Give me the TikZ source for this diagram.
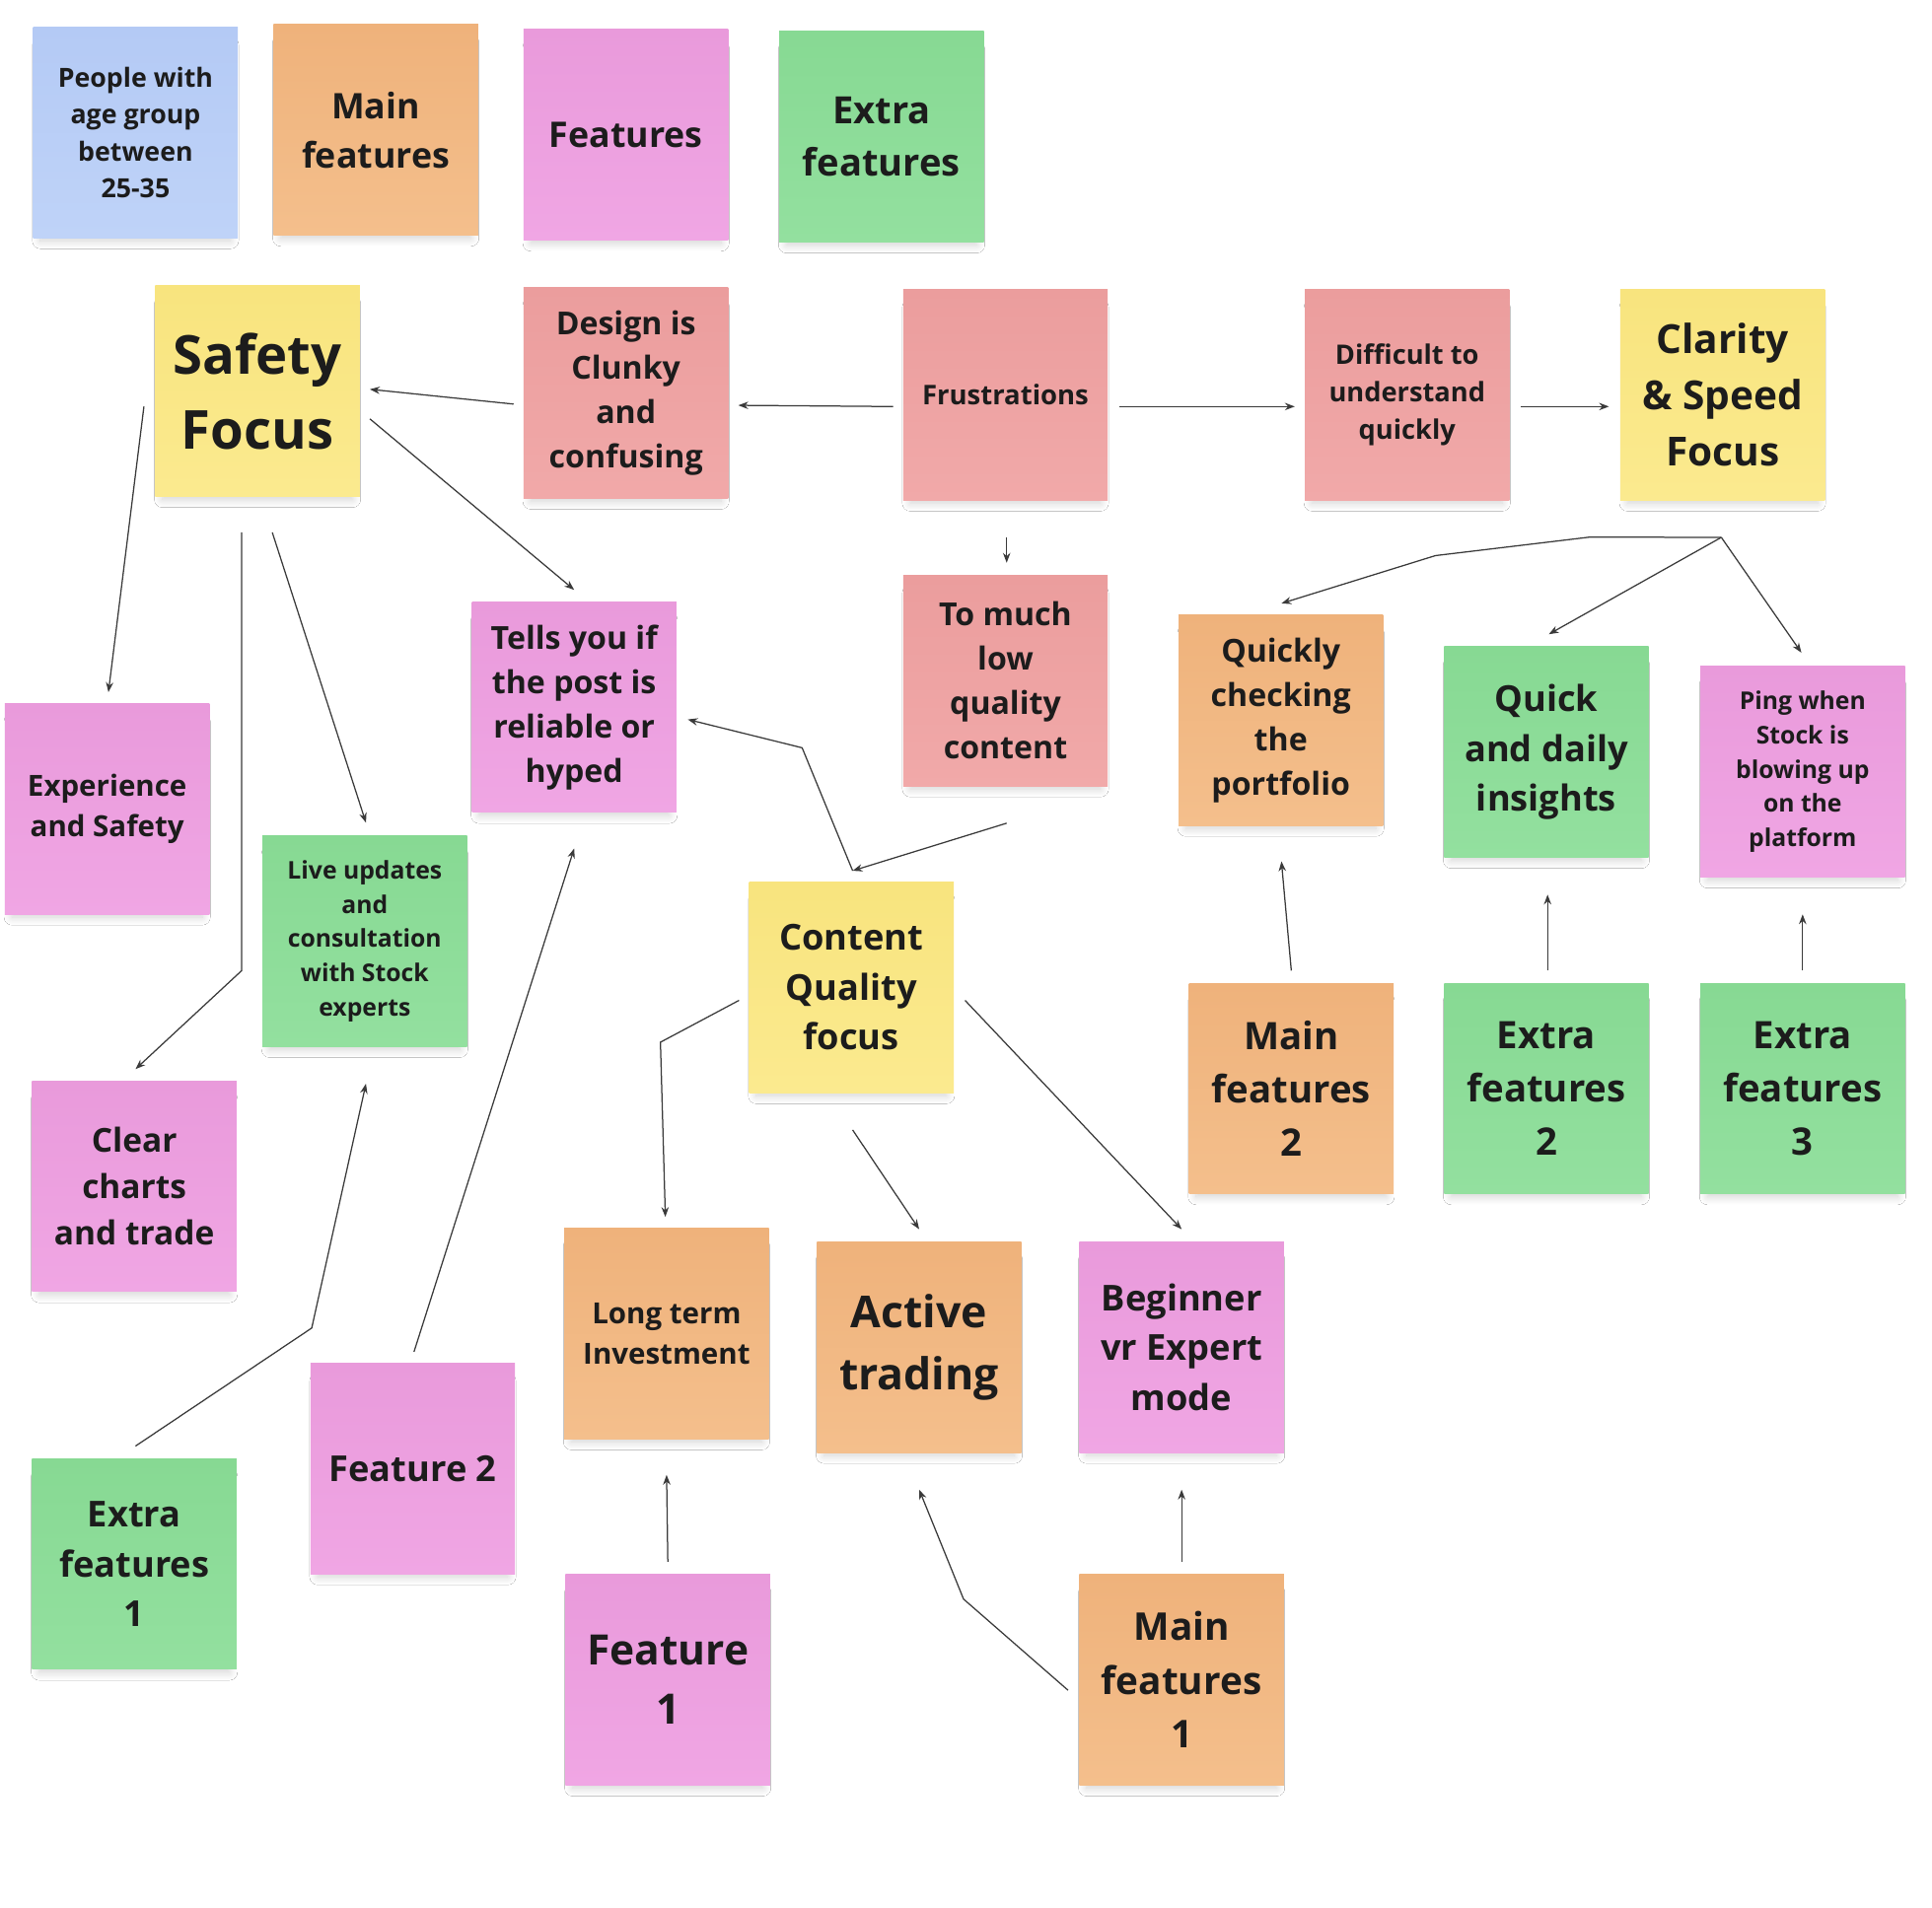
\documentclass[tikz,border=0pt]{standalone}
\usepackage{fontspec}
\setmainfont{Open Sans}
\usepackage{xcolor}
\usetikzlibrary{arrows.meta,shadows.blur}

\definecolor{inkdark}{HTML}{1C1C1C}
\definecolor{linegray}{HTML}{3A3A3A}
\definecolor{blueA}{HTML}{B4CAF5}
\definecolor{blueB}{HTML}{BFD3F8}
\definecolor{orangeA}{HTML}{EFB27B}
\definecolor{orangeB}{HTML}{F4BF8C}
\definecolor{pinkA}{HTML}{E99ADB}
\definecolor{pinkB}{HTML}{F0A6E4}
\definecolor{greenA}{HTML}{87D993}
\definecolor{greenB}{HTML}{93E09F}
\definecolor{yellowA}{HTML}{F8E47E}
\definecolor{yellowB}{HTML}{FBEA8F}
\definecolor{redA}{HTML}{EB9D9D}
\definecolor{redB}{HTML}{F1A9A9}

\newcommand{\notesize}[2]{\bfseries\fontsize{#1}{#2}\selectfont}

\tikzset{
  note/.style={rectangle, minimum width=166, minimum height=171, inner sep=2pt,
    align=center, text=inkdark,
    blur shadow={shadow xshift=0pt, shadow yshift=-9pt, shadow scale=0.93,
      shadow blur radius=7pt, shadow opacity=18, shadow blur steps=10}},
  bluenote/.style={note, top color=blueA, bottom color=blueB},
  orangenote/.style={note, top color=orangeA, bottom color=orangeB},
  pinknote/.style={note, top color=pinkA, bottom color=pinkB},
  greennote/.style={note, top color=greenA, bottom color=greenB},
  yellownote/.style={note, top color=yellowA, bottom color=yellowB},
  rednote/.style={note, top color=redA, bottom color=redB},
  conn/.style={draw=linegray, line width=1pt, -{Stealth[length=8pt,width=6pt]}},
}

\begin{document}
\begin{tikzpicture}[x=1pt, y=-1pt]
  \fill[white] (0,0) rectangle (1568,1548);
  \useasboundingbox (0,0) rectangle (1568,1548);

  % legend row
  \node[bluenote, font=\notesize{21.4}{30}] (people) at (110,107.5) {People with\\age group\\between\\25-35};
  \node[orangenote, font=\notesize{28.6}{40}] (maintop) at (305,105.5) {Main\\features};
  \node[pinknote, font=\notesize{28.6}{40}] (feattop) at (508,109.5) {Features};
  \node[greennote, font=\notesize{30.5}{43}] (extratop) at (715.5,111) {Extra\\features};

  % frustrations row
  \node[yellownote, font=\notesize{43.6}{61}] (safety) at (209,317.5) {Safety\\Focus};
  \node[rednote, font=\notesize{25.7}{36}] (design) at (508,319) {Design is\\Clunky\\and\\confusing};
  \node[rednote, font=\notesize{22}{30.5}] (frust) at (816,320.5) {Frustrations};
  \node[rednote, font=\notesize{21.8}{30.5}] (difficult) at (1142,320.5) {Difficult to\\understand\\quickly};
  \node[yellownote, font=\notesize{32.5}{45.5}] (clarity) at (1398,320.5) {Clarity\\\& Speed\\Focus};

  % focus areas
  \node[pinknote, font=\notesize{25.7}{36}] (tells) at (466,574) {Tells you if\\the post is\\reliable or\\hyped};
  \node[rednote, font=\notesize{25.7}{36}] (tomuch) at (816,552.5) {To much\\low\\quality\\content};
  \node[orangenote, font=\notesize{25.7}{36}] (checking) at (1039.5,584.5) {Quickly\\checking\\the\\portfolio};
  \node[greennote, font=\notesize{29}{40.5}] (insights) at (1255,610.5) {Quick\\and daily\\insights};
  \node[pinknote, font=\notesize{19.8}{27.7}] (ping) at (1463,626.5) {Ping when\\Stock is\\blowing up\\on the\\platform};
  \node[pinknote, font=\notesize{23.6}{33}] (experience) at (87,656.5) {Experience\\and Safety};
  \node[greennote, font=\notesize{19.8}{27.7}] (live) at (296,764) {Live updates\\and\\consultation\\with Stock\\experts};
  \node[yellownote, font=\notesize{29}{40.5}] (content) at (691,801.5) {Content\\Quality\\focus};
  \node[orangenote, font=\notesize{30.7}{43}] (main2) at (1048,883.5) {Main\\features\\2};
  \node[greennote, font=\notesize{30.7}{43}] (extra2) at (1255,883.5) {Extra\\features\\2};
  \node[greennote, font=\notesize{30.7}{43}] (extra3) at (1463,883.5) {Extra\\features\\3};
  \node[pinknote, font=\notesize{26.8}{37.5}] (clear) at (109,963) {Clear\\charts\\and trade};
  \node[orangenote, font=\notesize{23.6}{33}] (longterm) at (541,1082.5) {Long term\\Investment};
  \node[orangenote, font=\notesize{35.7}{50}] (active) at (746,1093.5) {Active\\trading};
  \node[pinknote, font=\notesize{29}{40.5}] (beginner) at (959,1093.5) {Beginner\\vr Expert\\mode};
  \node[pinknote, font=\notesize{29}{40.5}] (feat2) at (335,1192) {Feature 2};
  \node[greennote, font=\notesize{29}{40.5}] (extra1) at (109,1269.5) {Extra\\features\\1};
  \node[pinknote, font=\notesize{34}{48}] (feat1) at (542,1363.5) {Feature\\1};
  \node[orangenote, font=\notesize{31}{43.5}] (main1) at (959,1363.5) {Main\\features\\1};

  % bends
  \coordinate (clarityfork) at ([shift={(-1,30)}]clarity.south);
  \coordinate (contenttop) at ([shift={(1,-9)}]content.north);
  \coordinate (bendsafe) at (196,788);
  \coordinate (bendfork1) at (1290,436);
  \coordinate (bendfork2) at (1165,451);
  \coordinate (bendtells) at (651,607);
  \coordinate (bendlong) at (536,846);
  \coordinate (bendactive) at (782,1298);
  \coordinate (bendlive) at (253,1078);

  % connectors
  \draw[conn] ([shift={(-8,9)}]design.west) -- ([shift={(8,-1.5)}]safety.east);
  \draw[conn] ([shift={(-8,9.5)}]frust.west) -- ([shift={(8,10)}]design.east);
  \draw[conn] ([shift={(9,9.5)}]frust.east) -- ([shift={(-8,9.5)}]difficult.west);
  \draw[conn] ([shift={(9,9.5)}]difficult.east) -- ([shift={(-9,9.5)}]clarity.west);
  \draw[conn] ([shift={(1,30)}]frust.south) -- ([shift={(1,-10)}]tomuch.north);
  \draw[conn] ([shift={(-9,12.5)}]safety.west) -- ([shift={(1,-9)}]experience.north);
  \draw[conn] ([shift={(-13,29)}]safety.south) -- (bendsafe) -- ([shift={(1,-9.5)}]clear.north);
  \draw[conn] ([shift={(12,29)}]safety.south) -- ([shift={(1,-10.5)}]live.north);
  \draw[conn] ([shift={(8,22.5)}]safety.east) -- ([shift={(0,-9.5)}]tells.north);
  \draw[conn] (clarityfork) -- (bendfork1) -- (bendfork2) -- ([shift={(0.5,-9)}]checking.north);
  \draw[conn] (clarityfork) -- ([shift={(2,-10)}]insights.north);
  \draw[conn] (clarityfork) -- ([shift={(-1,-11)}]ping.north);
  \draw[conn] ([shift={(1,30)}]tomuch.south) -- (contenttop);
  \draw[conn] (contenttop) -- (bendtells) -- ([shift={(9,10)}]tells.east);
  \draw[conn] ([shift={(-8,10.5)}]content.west) -- (bendlong) -- ([shift={(-1,-9)}]longterm.north);
  \draw[conn] ([shift={(1,30)}]content.south) -- ([shift={(0,-10)}]active.north);
  \draw[conn] ([shift={(9,10.5)}]content.east) -- ([shift={(0,-10)}]beginner.north);
  \draw[conn] ([shift={(0,-10)}]feat1.north) -- ([shift={(0,29)}]longterm.south);
  \draw[conn] ([shift={(-9,8.5)}]main1.west) -- (bendactive) -- ([shift={(0,30)}]active.south);
  \draw[conn] ([shift={(0,-10)}]main1.north) -- ([shift={(0,30)}]beginner.south);
  \draw[conn] ([shift={(0,-10)}]main2.north) -- ([shift={(0.5,29)}]checking.south);
  \draw[conn] ([shift={(1,-10)}]extra2.north) -- ([shift={(1,30)}]insights.south);
  \draw[conn] ([shift={(0,-10)}]extra3.north) -- ([shift={(0,30)}]ping.south);
  \draw[conn] ([shift={(1,-10)}]extra1.north) -- (bendlive) -- ([shift={(1,30)}]live.south);
  \draw[conn] ([shift={(1,-9)}]feat2.north) -- ([shift={(0,29)}]tells.south);
\end{tikzpicture}
\end{document}
